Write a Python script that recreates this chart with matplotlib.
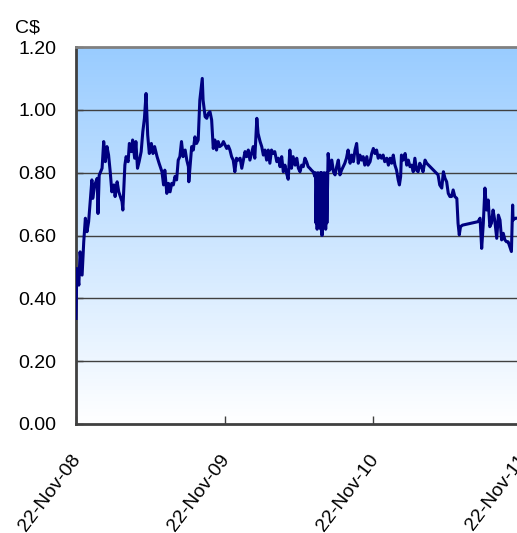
import datetime

import numpy as np
import matplotlib
matplotlib.use("Agg")
import matplotlib.pyplot as plt
import matplotlib.dates as mdates
import matplotlib.transforms as mtransforms
from matplotlib.colors import LinearSegmentedColormap

plt.rcParams["font.family"] = ["Liberation Sans", "DejaVu Sans"]

START = datetime.date(2008, 11, 22)

# days since 22-Nov-08
day_offsets = [
    0, 2, 7, 10, 15, 19, 23, 27, 31, 39, 41, 46, 52, 54, 57, 64, 68, 72, 76, 80,
    84, 88, 93, 96, 101, 105, 109, 113, 115, 120, 123, 128, 131, 136, 139, 144,
    147, 151, 155, 160, 164, 168, 172, 176, 180, 185, 189, 193, 199, 204, 211, 215,
    218, 223, 227, 231, 235, 239, 243, 247, 251, 255, 259, 263, 268, 272, 276, 277,
    284, 288, 292, 296, 300, 304, 310, 312, 317, 321, 325, 329, 333, 337, 341, 345,
    349, 353, 358, 362, 366, 370, 374, 378, 382, 386, 390, 394, 398, 403, 407, 411,
    415, 419, 423, 427, 431, 435, 439, 444, 447, 452, 456, 460, 464,
    468, 472, 476, 480, 484, 488, 493, 497, 501, 505, 509, 513, 517, 521, 525, 529,
    533, 538, 542, 546, 550, 554, 558, 562, 566, 570, 574, 578, 582, 587,
    588, 589, 591, 592, 594, 595, 597, 598, 600, 601, 603, 604, 606, 607, 609, 610,
    612, 613, 615, 616, 618,
    619, 623, 628, 632, 636, 640, 644, 648, 652, 656, 660, 664, 668, 673, 677, 681,
    685, 689, 693, 697, 701, 705, 709, 714, 717, 722, 726, 730, 734, 738, 742, 746,
    750, 754, 758, 763, 767, 771, 775, 779, 783, 787, 791, 794, 797, 799, 803, 808,
    812, 816, 820, 824, 828, 832, 836, 840, 844, 848, 852, 857, 861,
    889, 893, 898, 902, 906, 910, 914, 918, 922, 926, 930, 935, 938, 941, 944, 949,
    987, 992, 996, 1000, 1004, 1008, 1012, 1016, 1020, 1024, 1028, 1033, 1037, 1041,
    1045, 1049, 1053, 1057, 1061, 1065, 1069, 1072, 1073, 1078, 1082,
]
prices = [
    0.336, 0.495, 0.442, 0.548, 0.474, 0.580, 0.655, 0.612, 0.644, 0.777, 0.718,
    0.761, 0.782, 0.670, 0.792, 0.814, 0.899, 0.835, 0.883, 0.856, 0.803, 0.739,
    0.761, 0.724, 0.771, 0.739, 0.724, 0.708, 0.681, 0.824, 0.851, 0.835, 0.893,
    0.867, 0.904, 0.846, 0.899, 0.814, 0.835, 0.867, 0.930, 0.973, 1.052, 0.920,
    0.861, 0.893, 0.861, 0.883, 0.851, 0.830, 0.803, 0.761,
    0.808, 0.734, 0.766, 0.739, 0.766, 0.761, 0.788, 0.777, 0.840, 0.851, 0.899,
    0.851, 0.872, 0.840, 0.819, 0.771, 0.883, 0.872, 0.914, 0.893, 0.904, 1.031,
    1.100, 1.031, 0.978, 0.973, 0.989, 0.994, 0.968, 0.877, 0.904, 0.872, 0.899,
    0.883, 0.888, 0.899, 0.888, 0.877, 0.885, 0.872, 0.851, 0.840, 0.803, 0.846,
    0.840, 0.846, 0.814, 0.840, 0.867, 0.851, 0.872, 0.840, 0.861, 0.883, 0.846,
    0.973, 0.925, 0.899, 0.883, 0.856, 0.872,
    0.840, 0.872, 0.830, 0.872, 0.861, 0.867, 0.835, 0.846, 0.819, 0.851, 0.803,
    0.824, 0.798, 0.779, 0.872, 0.814, 0.851, 0.824, 0.846, 0.814, 0.803, 0.824,
    0.819, 0.846, 0.835, 0.819, 0.814, 0.808, 0.803, 0.787,
    0.800, 0.640, 0.790, 0.620, 0.800, 0.630, 0.790, 0.650, 0.800, 0.620, 0.800,
    0.600, 0.790, 0.630, 0.800, 0.640, 0.790, 0.620, 0.800, 0.640, 0.800,
    0.861, 0.808, 0.840, 0.803, 0.793, 0.819, 0.840, 0.793, 0.808, 0.819, 0.830,
    0.846, 0.872, 0.830, 0.856, 0.835, 0.872, 0.893, 0.830, 0.856, 0.840, 0.851,
    0.824, 0.851, 0.824, 0.835, 0.861, 0.877, 0.861, 0.872, 0.846, 0.856, 0.846,
    0.856, 0.835, 0.846, 0.824, 0.846, 0.830, 0.856, 0.824, 0.808, 0.777, 0.761,
    0.787, 0.856, 0.840, 0.861, 0.824, 0.840, 0.819, 0.824, 0.803, 0.846, 0.808,
    0.803, 0.830, 0.819, 0.803, 0.840, 0.830,
    0.793, 0.761, 0.751, 0.803, 0.782, 0.771, 0.734, 0.724, 0.724, 0.745, 0.724,
    0.718, 0.639, 0.602, 0.628, 0.633,
    0.644, 0.655, 0.559, 0.639, 0.751, 0.681, 0.713, 0.628, 0.639, 0.681, 0.649,
    0.591, 0.665, 0.649, 0.586, 0.607, 0.586, 0.580, 0.580, 0.565, 0.549, 0.697,
    0.649, 0.655, 0.655,
]

tick_dates = [datetime.date(2008, 11, 22), datetime.date(2009, 11, 22),
              datetime.date(2010, 11, 22), datetime.date(2011, 11, 22)]
tick_labels = ["22-Nov-08", "22-Nov-09", "22-Nov-10", "22-Nov-11"]
y_ticks = [0.0, 0.2, 0.4, 0.6, 0.8, 1.0, 1.2]

dates = [START + datetime.timedelta(days=d) for d in day_offsets]

fig = plt.figure(figsize=(5.17, 5.33), dpi=100)
# axes runs slightly past the right edge, as in the original crop
ax = fig.add_axes([76 / 517, 109 / 533, 446 / 517, 377 / 533])

# blue-to-white gradient background
grad = np.linspace(0, 1, 256).reshape(-1, 1)
cmap = LinearSegmentedColormap.from_list("bg", ["#FFFFFF", "#99CCFF"])
ax.imshow(grad, extent=[0, 1, 0, 1], transform=ax.transAxes, cmap=cmap,
          aspect="auto", origin="lower", zorder=0)

for v in y_ticks[1:-1]:
    ax.axhline(v, color="#404040", linewidth=1.0, zorder=1)

ax.plot(dates, prices, color="#000080", linewidth=2.2, zorder=3)

ax.set_xlim(mdates.date2num(tick_dates[0]), mdates.date2num(tick_dates[-1]))
ax.set_ylim(0, 1.2)
ax.set_xticks([mdates.date2num(d) for d in tick_dates])
ax.set_xticklabels(tick_labels, rotation=53, ha="right", va="top",
                   rotation_mode="anchor", fontsize=14)
ax.set_yticks(y_ticks)
ax.set_yticklabels([f"{v:.2f}" for v in y_ticks], fontsize=14)
ax.tick_params(axis="x", direction="in", length=6, width=1, color="#404040", pad=20)
ax.tick_params(axis="y", direction="in", length=5, width=1, color="#404040", pad=14)

# nudge the rotated date labels a little to the left
shift = mtransforms.ScaledTranslation(-5 / 100, 0, fig.dpi_scale_trans)
for lbl in ax.get_xticklabels():
    lbl.set_transform(lbl.get_transform() + shift)

ax.spines["left"].set_color("#404040")
ax.spines["left"].set_linewidth(2)
ax.spines["bottom"].set_color("#404040")
ax.spines["bottom"].set_linewidth(2)
ax.spines["top"].set_color("#808080")
ax.spines["top"].set_linewidth(2)
ax.spines["right"].set_visible(False)

fig.text(15 / 517, 1 - 32 / 533, "C$", fontsize=14, ha="left", va="baseline")

fig.savefig("out.png", dpi=100)
